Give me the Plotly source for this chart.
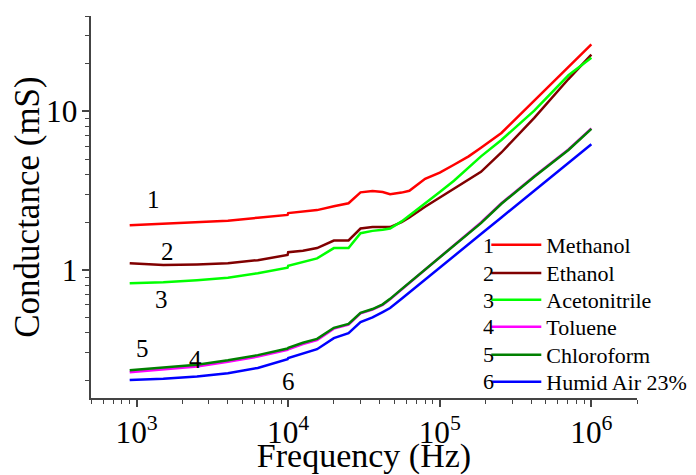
import numpy as np
import plotly.graph_objects as go

# ---------------- data ----------------
freq = [900, 1500, 2500, 4000, 6300, 9900, 10000, 12500, 15500, 20000, 25000,
        30000, 36000, 42000, 47000, 56000, 63000, 80000, 100000, 124000, 155000,
        187000, 255000, 420000, 706000, 1000000]

methanol = [1.91, 1.95, 1.99, 2.04, 2.13, 2.22, 2.28, 2.32, 2.38, 2.52, 2.63,
            3.08, 3.14, 3.10, 3.00, 3.07, 3.15, 3.75, 4.10, 4.60, 5.20,
            5.90, 7.30, 11.7, 19.0, 26.5]
ethanol = [1.10, 1.07, 1.08, 1.10, 1.15, 1.24, 1.29, 1.32, 1.37, 1.53, 1.53,
           1.82, 1.86, 1.87, 1.86, 2.00, 2.14, 2.50, 2.85, 3.25, 3.70,
           4.15, 5.50, 9.10, 16.0, 22.8]
acetonitrile = [0.822, 0.835, 0.86, 0.89, 0.95, 1.03, 1.06, 1.12, 1.18, 1.37, 1.37,
                1.70, 1.76, 1.79, 1.82, 2.02, 2.20, 2.65, 3.10, 3.65, 4.40,
                5.20, 6.60, 10.1, 16.9, 21.8]
toluene = [0.225, 0.235, 0.245, 0.262, 0.283, 0.312, 0.315, 0.34, 0.36, 0.425, 0.45,
           0.53, 0.56, 0.60, 0.65, 0.75, 0.826, 1.0, 1.2, 1.43, 1.71,
           1.99, 2.63, 3.9, 5.75, 7.8]
chloroform = [0.232, 0.241, 0.251, 0.268, 0.289, 0.318, 0.321, 0.346, 0.366, 0.43, 0.455,
              0.535, 0.565, 0.605, 0.655, 0.755, 0.83, 1.0, 1.19, 1.42, 1.70,
              1.97, 2.61, 3.87, 5.70, 7.75]
humid_air = [0.201, 0.205, 0.212, 0.222, 0.24, 0.272, 0.277, 0.297, 0.315, 0.37, 0.398,
             0.467, 0.50, 0.54, 0.573, 0.656, 0.72, 0.867, 1.03, 1.22, 1.45,
             1.68, 2.14, 3.15, 4.72, 6.2]

series_names = ["Methanol", "Ethanol", "Acetonitrile", "Toluene", "Chloroform", "Humid Air 23%"]
series_values = [methanol, ethanol, acetonitrile, toluene, chloroform, humid_air]
series_numbers = ["1", "2", "3", "4", "5", "6"]
series_colors = ["#FF0000", "#800000", "#00FF00", "#FF00FF", "#008000", "#0000FF"]

FONT = "Liberation Serif"
BLACK = "#000000"

fig = go.Figure()
legend_ids = ["legend", "legend2", "legend3", "legend4", "legend5", "legend6"]
for name, vals, col, lid in zip(series_names, series_values, series_colors, legend_ids):
    fig.add_trace(go.Scatter(x=freq, y=vals, mode="lines", name=name,
                             line=dict(color=col, width=2.5), legend=lid))

# curve number labels (data coordinates)
curve_labels = [("1", 1300, 2.78), ("2", 1600, 1.31), ("3", 1460, 0.652),
                ("5", 1095, 0.32), ("4", 2450, 0.272), ("6", 10000, 0.198)]
annotations = []
for txt, fx, gy in curve_labels:
    annotations.append(dict(x=float(np.log10(fx)), y=float(np.log10(gy)), xref="x", yref="y",
                            text=txt, showarrow=False,
                            font=dict(family=FONT, size=25, color=BLACK)))

# one legend per series so that row spacing matches; number drawn left of each key
row_y = [0.4005, 0.327, 0.2565, 0.186, 0.1126, 0.0419]
legend_layout = {}
for lid, ry, num in zip(legend_ids, row_y, series_numbers):
    legend_layout[lid] = dict(x=0.724, y=ry, xanchor="left", yanchor="middle",
                              bgcolor="rgba(0,0,0,0)", borderwidth=0,
                              font=dict(family=FONT, size=22, color=BLACK),
                              itemwidth=50)
    annotations.append(dict(x=0.741, y=ry, xref="paper", yref="paper",
                            xanchor="right", yanchor="middle", text=num,
                            showarrow=False,
                            font=dict(family=FONT, size=22, color=BLACK)))

# page body has an 8px margin, so the figure is sized/margined to compensate
fig.update_layout(
    width=688, height=467,
    font=dict(family=FONT, size=22, color=BLACK),
    margin=dict(l=83, r=59, t=8, b=77, autoexpand=False),
    paper_bgcolor="white", plot_bgcolor="white",
    showlegend=True,
    annotations=annotations,
    **legend_layout,
)
axis_style = dict(
    type="log", showgrid=False, zeroline=False, showline=True,
    linecolor="#444", linewidth=1.5, ticks="outside", ticklen=7, tickwidth=1.5,
    tickcolor="#444", tickfont=dict(family=FONT, size=25, color=BLACK),
    dtick=1, exponentformat="power",
    minor=dict(dtick="D1", ticks="outside", ticklen=4, tickwidth=1.2,
               tickcolor="#444", showgrid=False),
)
fig.update_xaxes(**axis_style,
                 range=[float(np.log10(500)), float(np.log10(2e6))],
                 title=dict(text="Frequency (Hz)", standoff=0,
                            font=dict(family=FONT, size=34, color=BLACK)))
fig.update_yaxes(**axis_style,
                 range=[float(np.log10(0.155)), float(np.log10(40))],
                 title=dict(text="Conductance (mS)", standoff=8,
                            font=dict(family=FONT, size=35, color=BLACK)))

fig.write_html("out.html")
